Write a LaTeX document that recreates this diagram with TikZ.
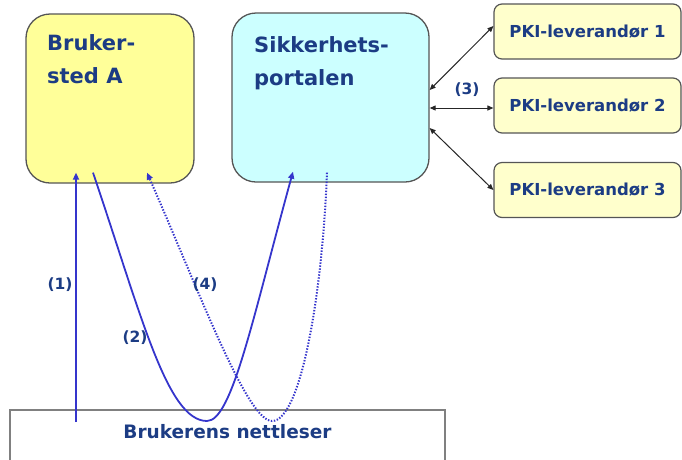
\documentclass[tikz,border=0pt]{standalone}
\usepackage{fontspec}
\setmainfont{DejaVu Sans}
\usetikzlibrary{arrows.meta}

\definecolor{navy}{HTML}{1C3C84}
\definecolor{flowblue}{HTML}{3535CC}
\definecolor{siteyellow}{HTML}{FFFF99}
\definecolor{portalcyan}{HTML}{CCFFFF}
\definecolor{pkiyellow}{HTML}{FFFFCC}
\definecolor{edgegray}{HTML}{555555}

\tikzset{
  bigbox/.style={draw=edgegray, line width=1.3pt, rounded corners=24pt, inner sep=0pt},
  pkibox/.style={draw=edgegray, line width=1.2pt, fill=pkiyellow, rounded corners=8pt,
    minimum width=187pt, minimum height=55pt, inner sep=0pt,
    text=navy, font=\fontsize{16.5}{18}\selectfont\bfseries},
  boxtitle/.style={anchor=north west, inner sep=0pt, align=left, text=navy,
    font=\fontsize{21}{33}\selectfont\bfseries},
  steplabel/.style={text=navy, inner sep=0pt, font=\fontsize{15.5}{17}\selectfont\bfseries},
  flow/.style={draw=flowblue, line width=1.8pt, -{Triangle[length=7pt,width=6pt]}},
  flowdot/.style={flow, line width=2pt, dash pattern=on 1.4pt off 1.6pt},
  link/.style={draw=black!85, line width=1pt,
    {Triangle[length=6pt,width=5pt]}-{Triangle[length=6pt,width=5pt]}}
}

\begin{document}
\begin{tikzpicture}[x=1pt, y=-1pt]
  \useasboundingbox (0,0) rectangle (682,459);
  \clip (0,0) rectangle (682,459);

  % user site and security portal
  \node[bigbox, fill=siteyellow, minimum width=168pt, minimum height=169pt] (site) at (110,98.5) {};
  \node[boxtitle] (sitetitle) at (47,34) {Bruker-\\sted A};
  \node[bigbox, fill=portalcyan, minimum width=197pt, minimum height=169pt] (portal) at (330.5,97.5) {};
  \node[boxtitle] (portaltitle) at (254,36) {Sikkerhets-\\portalen};

  % certificate providers
  \node[pkibox] (pki1) at (587.5,31.5) {PKI-leverandør 1};
  \node[pkibox] (pki2) at (587.5,105.5) {PKI-leverandør 2};
  \node[pkibox] (pki3) at (587.5,190) {PKI-leverandør 3};

  % user's browser
  \node[draw=gray, line width=1.8pt, minimum width=435pt, minimum height=70pt, inner sep=0pt]
    (browser) at (227.5,445) {};
  \node[text=navy, inner sep=0pt, font=\fontsize{18.5}{20}\selectfont\bfseries]
    (browsertext) at (227.5,432) {Brukerens nettleser};

  % links between portal and providers
  \draw[link] ([yshift=7.5pt]portal.east) -- ([yshift=5.5pt]pki1.west);
  \draw[link] ([yshift=-10.5pt]portal.east) -- ([yshift=-2.5pt]pki2.west);
  \draw[link] ([yshift=-30.5pt]portal.east) -- (pki3.west);
  \node[steplabel] (l3) at (467,90) {(3)};

  % (1) browser to user site
  \coordinate (s1) at (76,422);
  \draw[flow] (s1) -- ([xshift=-34pt,yshift=11pt]site.south);
  \node[steplabel] (l1) at (60,285) {(1)};

  % (2) redirect from user site via browser to portal
  \coordinate (m2) at (207,421);
  \draw[flow] ([xshift=-17pt,yshift=11pt]site.south)
      .. controls (141,314) and (167,421) .. (m2)
      .. controls (232,421) and (253,317) .. ([xshift=-37.5pt,yshift=11pt]portal.south);
  \node[steplabel] (l2) at (135,338) {(2)};

  % (4) return from portal via browser to user site
  \coordinate (n4) at (272,421);
  \draw[flowdot] ([xshift=-3.5pt,yshift=10pt]portal.south)
      .. controls (322,300) and (300,421) .. (n4)
      .. controls (247,421) and (199,291) .. ([xshift=37pt,yshift=11pt]site.south);
  \node[steplabel] (l4) at (205,285) {(4)};
\end{tikzpicture}
\end{document}
